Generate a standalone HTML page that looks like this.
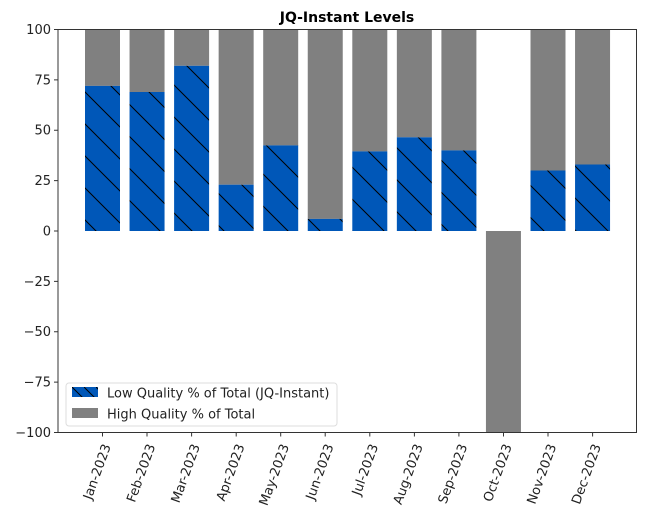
<!DOCTYPE html>
<html><head><meta charset="utf-8"><style>body{margin:0;background:#fff}svg{display:block}</style></head>
<body>
<svg width="646" height="522" viewBox="0 0 646 522" xmlns="http://www.w3.org/2000/svg" font-family="DejaVu Sans, Liberation Sans, sans-serif">
<defs>
<pattern id="h" patternUnits="userSpaceOnUse" width="32" height="32" x="0" y="7">
<rect width="32" height="32" fill="#0057b8"/>
<path d="M-8,-8 L40,40 M-40,-8 L8,40 M24,-8 L72,40" stroke="#000" stroke-width="1"/>
</pattern>
<pattern id="hl" patternUnits="userSpaceOnUse" width="12" height="12" x="72" y="387">
<rect width="12" height="12" fill="#0057b8"/>
<path d="M0,0 L12,12" stroke="#000" stroke-width="1"/>
</pattern>
</defs>
<text x="347" y="22" text-anchor="middle" font-size="14" font-weight="bold">JQ-Instant Levels</text>
<g>
<rect x="85" y="29.5" width="35" height="56.4" fill="#808080"/><rect x="85" y="85.9" width="35" height="145.1" fill="url(#h)"/>
<rect x="129.55" y="29.5" width="35" height="62.5" fill="#808080"/><rect x="129.55" y="92" width="35" height="139" fill="url(#h)"/>
<rect x="174.1" y="29.5" width="35" height="36.3" fill="#808080"/><rect x="174.1" y="65.8" width="35" height="165.2" fill="url(#h)"/>
<rect x="218.65" y="29.5" width="35" height="155.2" fill="#808080"/><rect x="218.65" y="184.7" width="35" height="46.3" fill="url(#h)"/>
<rect x="263.2" y="29.5" width="35" height="115.9" fill="#808080"/><rect x="263.2" y="145.4" width="35" height="85.6" fill="url(#h)"/>
<rect x="307.75" y="29.5" width="35" height="189.4" fill="#808080"/><rect x="307.75" y="218.9" width="35" height="12.1" fill="url(#h)"/>
<rect x="352.3" y="29.5" width="35" height="121.9" fill="#808080"/><rect x="352.3" y="151.4" width="35" height="79.6" fill="url(#h)"/>
<rect x="396.85" y="29.5" width="35" height="107.8" fill="#808080"/><rect x="396.85" y="137.3" width="35" height="93.7" fill="url(#h)"/>
<rect x="441.4" y="29.5" width="35" height="120.9" fill="#808080"/><rect x="441.4" y="150.4" width="35" height="80.6" fill="url(#h)"/>
<rect x="485.95" y="231" width="35" height="201.5" fill="#808080"/>
<rect x="530.5" y="29.5" width="35" height="141" fill="#808080"/><rect x="530.5" y="170.5" width="35" height="60.5" fill="url(#h)"/>
<rect x="575.05" y="29.5" width="35" height="135" fill="#808080"/><rect x="575.05" y="164.5" width="35" height="66.5" fill="url(#h)"/>
</g>
<rect x="58" y="29.5" width="578.5" height="403" fill="none" stroke="#333" stroke-width="1"/>
<g stroke="#333" stroke-width="1">
<path d="M54,29.5H58M54,79.9H58M54,130.2H58M54,180.6H58M54,231H58M54,281.4H58M54,331.8H58M54,382.1H58M54,432.5H58"/>
<path d="M102.5,432.5v4M147,432.5v4M191.6,432.5v4M236.2,432.5v4M280.7,432.5v4M325.2,432.5v4M369.8,432.5v4M414.4,432.5v4M458.9,432.5v4M503.5,432.5v4M548,432.5v4M592.6,432.5v4"/>
</g>
<g font-size="13" fill="#222" text-anchor="end">
<text x="51" y="34">100</text><text x="51" y="84.3">75</text><text x="51" y="134.6">50</text><text x="51" y="185">25</text><text x="51" y="235.4">0</text><text x="51" y="285.8">−25</text><text x="51" y="336.2">−50</text><text x="51" y="386.5">−75</text><text x="51" y="437">−100</text>
</g>
<g font-size="13" fill="#222" text-anchor="end">
<text transform="translate(111,446) rotate(-70)">Jan-2023</text>
<text transform="translate(155.5,446) rotate(-70)">Feb-2023</text>
<text transform="translate(200.1,446) rotate(-70)">Mar-2023</text>
<text transform="translate(244.7,446) rotate(-70)">Apr-2023</text>
<text transform="translate(289.2,446) rotate(-70)">May-2023</text>
<text transform="translate(333.7,446) rotate(-70)">Jun-2023</text>
<text transform="translate(378.3,446) rotate(-70)">Jul-2023</text>
<text transform="translate(422.9,446) rotate(-70)">Aug-2023</text>
<text transform="translate(467.4,446) rotate(-70)">Sep-2023</text>
<text transform="translate(512,446) rotate(-70)">Oct-2023</text>
<text transform="translate(556.5,446) rotate(-70)">Nov-2023</text>
<text transform="translate(601.1,446) rotate(-70)">Dec-2023</text>
</g>
<rect x="66" y="383" width="271" height="43" rx="3" fill="#fff" fill-opacity="0.85" stroke="#ddd"/>
<rect x="72" y="387" width="26" height="10" fill="url(#hl)"/>
<rect x="72" y="408" width="26" height="10" fill="#808080"/>
<g font-size="13" fill="#222">
<text x="107" y="397.5">Low Quality % of Total (JQ-Instant)</text>
<text x="107" y="418.5">High Quality % of Total</text>
</g>
</svg>
</body></html>
